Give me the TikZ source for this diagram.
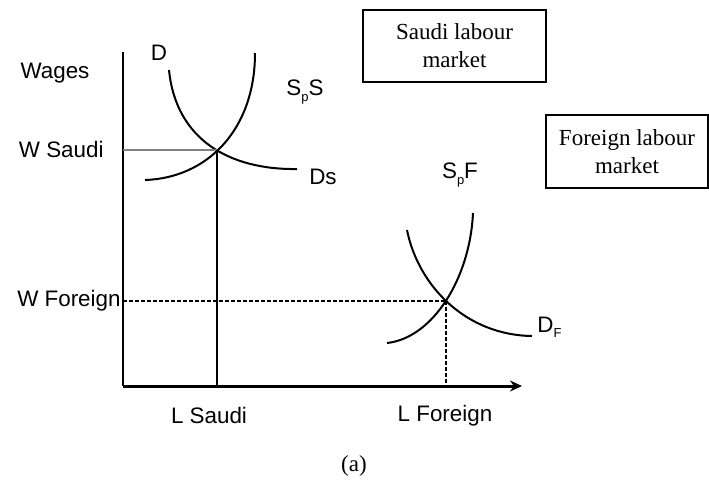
\documentclass[tikz,border=0pt]{standalone}
\usepackage{fontspec}
\setmainfont{Liberation Serif}
\setsansfont{Liberation Sans}
\usetikzlibrary{arrows.meta}
\newcommand{\lowsub}[1]{\raisebox{-0.45ex}{\fontsize{6.5}{7}\selectfont #1}}
\begin{document}
\begin{tikzpicture}[x=0.5pt,y=-0.5pt,
  lbl/.style={font=\sffamily\fontsize{11.2}{13}\selectfont, inner sep=0pt},
  mkt/.style={draw, line width=0.9pt, align=center, inner sep=0pt,
    font=\fontsize{11.5}{14}\selectfont},
  curve/.style={line width=1pt},
  guide/.style={line width=1.3pt, dash pattern=on 2pt off 1pt}]
\useasboundingbox (0,0) rectangle (709,483);
% market boxes
\node[mkt, minimum width=91.5pt, minimum height=36pt] (sbox) at (454.5,46) {Saudi labour\\market};
\node[mkt, minimum width=81pt, minimum height=36.5pt] (fbox) at (627,151.5) {Foreign labour\\market};
% axes
\coordinate (o) at (123,386);
\coordinate (ytop) at (123,52);
\coordinate (xend) at (522,386);
\draw[line width=1pt] (o) -- (ytop);
\draw[line width=1.5pt, -{Stealth[length=6pt,width=5.5pt]}] (o) -- (xend);
% equilibrium points
\coordinate (eS) at (217,150);
\coordinate (eF) at (446,301);
\coordinate (eSx) at (217,386);
\coordinate (eSy) at (123,150);
\coordinate (eFx) at (446,386);
\coordinate (eFy) at (123,301);
% Saudi market curves
\draw[curve] (169,70) .. controls (176,140) and (230,170) .. (297,169);
\draw[curve] (145,180) .. controls (207,178) and (255,130) .. (255,53);
\draw[line width=1.2pt, gray] (eSy) -- (eS);
\draw[line width=1pt] (eS) -- (eSx);
% foreign market curves
\draw[curve] (407,230) .. controls (418,285) and (465,335) .. (532,336);
\draw[curve] (387,343) .. controls (433,338) and (470,278) .. (473,213);
\draw[guide] (eFy) -- (eF);
\draw[guide] (eF) -- (eFx);
% labels
\node[lbl] (wages) at (55,73) {Wages};
\node[lbl, anchor=east] (wsaudi) at (104,149) {W Saudi};
\node[lbl, anchor=east] (wforeign) at (121,301) {W Foreign};
\node[lbl] (lsaudi) at (209,415) {L Saudi};
\node[lbl] (lforeign) at (445,416) {L Foreign};
\node[lbl] (dlab) at (159,53) {D};
\node[lbl] (ssLab) at (305,92) {S\lowsub{p}S};
\node[lbl] (dsLab) at (323,177) {Ds};
\node[lbl] (sfLab) at (460,175) {S\lowsub{p}F};
\node[lbl, anchor=west] (dfLab) at (537,327) {D\lowsub{F}};
\node[font=\fontsize{11.5}{14}\selectfont, inner sep=0pt] (cap) at (354,466) {(a)};
\end{tikzpicture}
\end{document}
